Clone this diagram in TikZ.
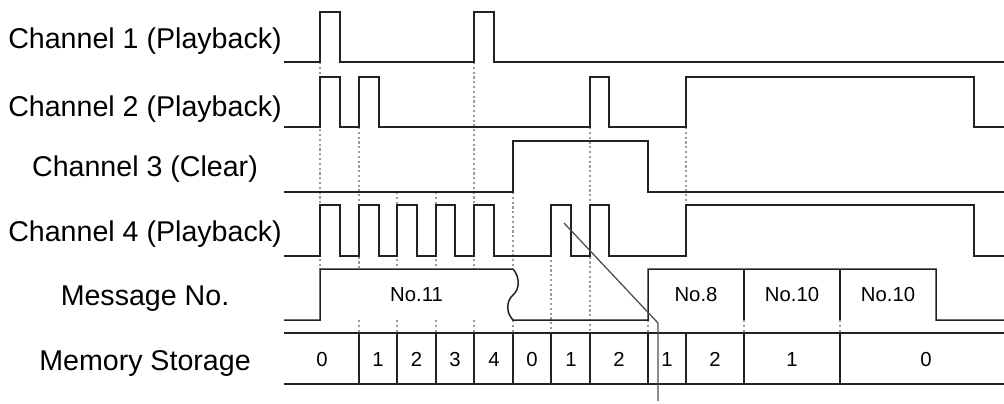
\documentclass[tikz,border=0pt]{standalone}
\usepackage{fontspec}
\setmainfont{Liberation Sans}
\definecolor{wave}{HTML}{222222}
\definecolor{grid}{HTML}{9A9A9A}
\definecolor{ptrc}{HTML}{505050}
\tikzset{
  wv/.style={draw=wave,line width=1.5pt,line join=miter},
  gridline/.style={draw=grid,line width=1.1pt,dash pattern=on 2.2pt off 2.6pt},
  ptrline/.style={draw=ptrc,line width=1.3pt},
  lbl/.style={anchor=base,inner sep=0pt,font=\fontsize{28.6}{30}\selectfont,text=black},
  cell/.style={anchor=base,inner sep=0pt,font=\fontsize{20.3}{22}\selectfont,text=black}
}
\begin{document}
\begin{tikzpicture}[x=1pt,y=-1pt]
\useasboundingbox (0,0) rectangle (1004,404);
% grid (dotted) lines
\foreach \x/\a/\b in {320/62/269, 359/127/269, 359/320/333, 397/192/269, 397/320/333,
  436/192/269, 436/320/333, 474/62/269, 474/320/333, 513/192/269, 513/320/333,
  551/255/333, 590/127/333, 686/127/205, 648/320/333, 744/320/333, 840/320/333}
  \draw[gridline] (\x,\a) -- (\x,\b);
% labels
\node[lbl] (l1) at (145,48.3) {Channel 1 (Playback)};
\node[lbl] (l2) at (145,116.7) {Channel 2 (Playback)};
\node[lbl] (l3) at (145,176.7) {Channel 3 (Clear)};
\node[lbl] (l4) at (145,241.7) {Channel 4 (Playback)};
\node[lbl] (l5) at (145,305) {Message No.};
\node[lbl] (l6) at (145,370) {Memory Storage};
% channel 1
\draw[wv] (284,62) -- (320,62) -- (320,12) -- (340,12) -- (340,62) -- (474,62) -- (474,12)
  -- (494,12) -- (494,62) -- (1004,62);
% channel 2
\draw[wv] (284,127) -- (320,127) -- (320,77) -- (340,77) -- (340,127) -- (359,127) -- (359,77)
  -- (379,77) -- (379,127) -- (590,127) -- (590,77) -- (609,77) -- (609,127) -- (686,127)
  -- (686,77) -- (974,77) -- (974,127) -- (1004,127);
% channel 3
\draw[wv] (284,192) -- (513,192) -- (513,141) -- (648,141) -- (648,192) -- (1004,192);
% channel 4
\draw[wv] (284,256) -- (320,256) -- (320,205) -- (340,205) -- (340,256) -- (359,256) -- (359,205)
  -- (379,205) -- (379,256) -- (397,256) -- (397,205) -- (417,205) -- (417,256) -- (436,256)
  -- (436,205) -- (455,205) -- (455,256) -- (474,256) -- (474,205) -- (494,205) -- (494,256)
  -- (551,256) -- (551,205) -- (571,205) -- (571,256) -- (590,256) -- (590,205) -- (609,205)
  -- (609,256) -- (686,256) -- (686,205) -- (974,205) -- (974,256) -- (1004,256);
% message row
\draw[wv] (284,320) -- (320,320) -- (320,269) -- (513,269)
  .. controls (520,277) and (520,289) .. (513,295)
  .. controls (506,301) and (506,313) .. (513,320)
  -- (648,320) -- (648,269) -- (936,269) -- (936,320) -- (1004,320);
\draw[wv] (744,269) -- (744,320);
\draw[wv] (840,269) -- (840,320);
\node[cell] (m11) at (416.5,301) {No.11};
\node[cell] (m8) at (696,301) {No.8};
\node[cell] (m10a) at (792,301) {No.10};
\node[cell] (m10b) at (888,301) {No.10};
% memory row
\draw[wv] (284,333) -- (1004,333);
\draw[wv] (284,384) -- (1004,384);
\foreach \x in {359,397,436,474,513,551,590,648,686,744,840}
  \draw[wv] (\x,333) -- (\x,384);
\foreach \x/\t [count=\i] in {322/0,378/1,416.5/2,455/3,494/4,532/0,571/1,619/2,667/1,715/2,792/1,926/0}
  \node[cell] (s\i) at (\x,366) {\t};
% pointer
\coordinate (p0) at (564,223);
\coordinate (p1) at (658,323);
\coordinate (p2) at (658,401);
\draw[ptrline] (p0) -- (p1) -- (p2);
\end{tikzpicture}
\end{document}
